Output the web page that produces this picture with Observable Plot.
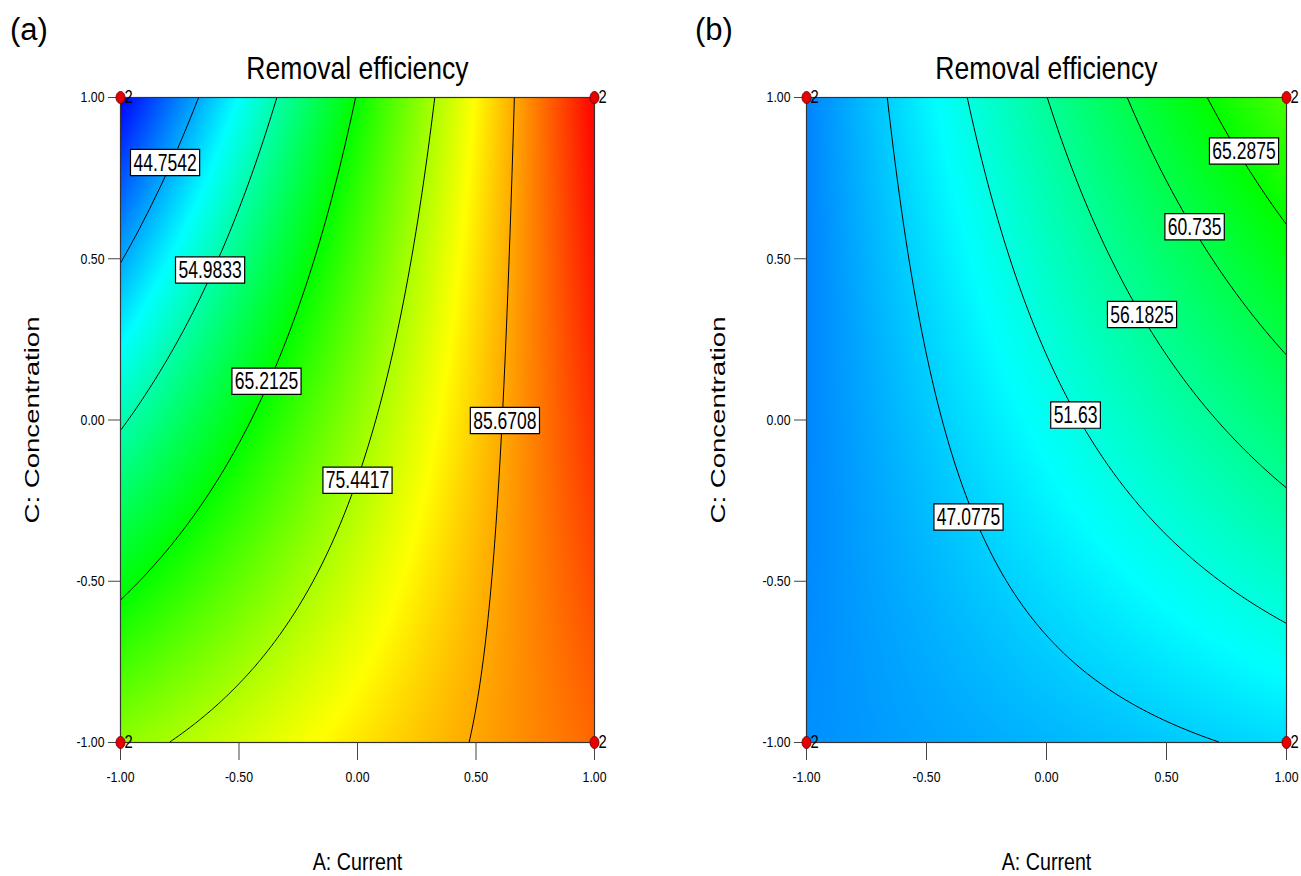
<!DOCTYPE html>
<html>
<head>
<meta charset="utf-8">
<script src="https://cdn.jsdelivr.net/npm/d3@7"></script>
<script src="https://cdn.jsdelivr.net/npm/@observablehq/plot@0.6"></script>
<style>
  html, body { margin: 0; padding: 0; background: #fff; }
  body { position: relative; width: 1301px; height: 876px; overflow: hidden; font-family: "Liberation Sans", Arial, sans-serif; }
  .panel { position: absolute; top: 0; }
  .tag { position: absolute; font-family: "Liberation Sans", Arial, sans-serif; font-size: 31px; line-height: 1; color: #000; }
</style>
</head>
<body>
<div class="tag" style="left:10px; top:14px;">(a)</div>
<div class="tag" style="left:695px; top:14px;">(b)</div>
<div id="pa" class="panel" style="left:0px;"></div>
<div id="pb" class="panel" style="left:650px;"></div>
<script>
// ---- data ----
const tickValues = [-1, -0.5, 0, 0.5, 1];
const titleText = "Removal efficiency";
const xLabel = "A: Current";
const yLabel = "C: Concentration";

// quadratic response-surface coefficients: [intercept, A, C, A*C, A^2, C^2]
const coefA = [73.95, 19.35, -8.25, 11.35, -0.25, -0.24];
const coefB = [50.54, 7.96, 5.35, 5.70, 0.0, 0.25];

// contour levels (as printed)
const levelsA = [44.7542, 54.9833, 65.2125, 75.4417, 85.6708];
const levelsB = [47.0775, 51.63, 56.1825, 60.735, 65.2875];

// where the contour labels sit (A, C coordinates)
const labelPosA_x = [-0.812, -0.622, -0.384, 0.0, 0.622];
const labelPosA_y = [0.797, 0.464, 0.119, -0.188, -0.003];
const labelPosB_x = [-0.325, 0.121, 0.398, 0.617, 0.823];
const labelPosB_y = [-0.302, 0.014, 0.326, 0.598, 0.833];

// design points and replicate counts
const designA = [-1, -1, 1, 1];
const designC = [-1, 1, 1, -1];
const designCount = [2, 2, 2, 2];

// colour-scale breakpoints (response range of the model)
const colorStops = [34.525, 49.869, 65.2125, 80.556, 95.9];

// ---- drawing ----
const FONT = "'Liberation Sans', Arial, sans-serif";
const surface = c => (A, C) => c[0] + c[1]*A + c[2]*C + c[3]*A*C + c[4]*A*A + c[5]*C*C;

const ellipse = {
  draw(ctx) {
    const rx = 4.5, ry = 6, k = 0.5523;
    ctx.moveTo(rx, 0);
    ctx.bezierCurveTo(rx, k*ry, k*rx, ry, 0, ry);
    ctx.bezierCurveTo(-k*rx, ry, -rx, k*ry, -rx, 0);
    ctx.bezierCurveTo(-rx, -k*ry, -k*rx, -ry, 0, -ry);
    ctx.bezierCurveTo(k*rx, -ry, rx, -k*ry, rx, 0);
    ctx.closePath();
  }
};

const design = designA.map((a, i) => ({A: a, C: designC[i], n: String(designCount[i])}));

function makePanel(coef, levels, lx, ly, width, marginLeft, marginRight) {
  const f = surface(coef);
  const labels = levels.map((v, i) => ({A: lx[i], C: ly[i], text: String(v)}));
  return Plot.plot({
    width, height: 876,
    marginLeft, marginRight, marginTop: 97, marginBottom: 134,
    style: {background: "transparent", color: "#000", fontFamily: FONT, fontSize: "15px"},
    x: {domain: [-1, 1]},
    y: {domain: [-1, 1]},
    color: {type: "linear", domain: colorStops, range: ["#0000ff", "#00ffff", "#00ff00", "#ffff00", "#ff0000"], interpolate: "rgb"},
    marks: [
      Plot.raster({fill: f, x1: -1, x2: 1, y1: -1, y2: 1, pixelSize: 1}),
      Plot.contour({value: f, x1: -1, x2: 1, y1: -1, y2: 1, pixelSize: 1, thresholds: levels, fill: "none", stroke: "#000", strokeWidth: 1}),
      Plot.frame({stroke: "#333", strokeWidth: 1.2}),
      Plot.axisX({ticks: tickValues, tickFormat: d => d.toFixed(2), tickSize: 18, tickPadding: 11, fontSize: 15, label: null, stroke: "#444"}),
      Plot.axisY({ticks: tickValues, tickFormat: d => d.toFixed(2), tickSize: 12, tickPadding: 4, fontSize: 15, label: null, stroke: "#444"}),
      Plot.text(labels, {x: "A", y: "C", text: "text", fontSize: 24, fill: "#000"}),
      Plot.dot(design, {x: "A", y: "C", symbol: ellipse, fill: "#e80000", stroke: "#5a0000", strokeWidth: 0.8}),
      Plot.text(design, {x: "A", y: "C", text: "n", dx: 4, textAnchor: "start", fontSize: 18, fill: "#000"}),
      Plot.text([titleText], {frameAnchor: "top", dy: -29, lineAnchor: "middle", fontSize: 32, fill: "#000"}),
      Plot.text([xLabel], {frameAnchor: "bottom", dy: 120, lineAnchor: "middle", fontSize: 24, fill: "#000"}),
      Plot.text([yLabel], {frameAnchor: "left", dx: -88, rotate: -90, textAnchor: "middle", lineAnchor: "middle", fontSize: 20, fill: "#000"})
    ]
  });
}

const svgA = makePanel(coefA, levelsA, labelPosA_x, labelPosA_y, 650, 120, 56);
const svgB = makePanel(coefB, levelsB, labelPosB_x, labelPosB_y, 651, 156, 15);
document.getElementById("pa").appendChild(svgA);
document.getElementById("pb").appendChild(svgB);

const NS = "http://www.w3.org/2000/svg";
const levelStrings = new Set([...levelsA, ...levelsB].map(String));
for (const svg of [svgA, svgB]) {
  svg.querySelectorAll("text").forEach(t => {
    const s = t.textContent;
    const tr = t.getAttribute("transform") || "";
    if (s === yLabel) {
      // rotated axis title: stretched along its length
      t.setAttribute("transform", tr + " scale(1.38,1)");
      return;
    }
    let sx = 0.82;
    if (s === titleText) sx = 0.83;
    else if (levelStrings.has(s)) sx = 0.73;
    t.setAttribute("transform", tr + ` scale(${sx},1)`);
    if (levelStrings.has(s)) {
      // white box with black border behind contour labels
      const b = t.getBBox();
      const r = document.createElementNS(NS, "rect");
      r.setAttribute("x", b.x - 4);
      r.setAttribute("y", b.y + 0.5);
      r.setAttribute("width", b.width + 8);
      r.setAttribute("height", b.height);
      r.setAttribute("fill", "#fff");
      r.setAttribute("stroke", "#000");
      r.setAttribute("stroke-width", "1.2");
      r.setAttribute("vector-effect", "non-scaling-stroke");
      r.setAttribute("transform", t.getAttribute("transform"));
      t.parentNode.insertBefore(r, t);
    }
  });
}
</script>
</body>
</html>
